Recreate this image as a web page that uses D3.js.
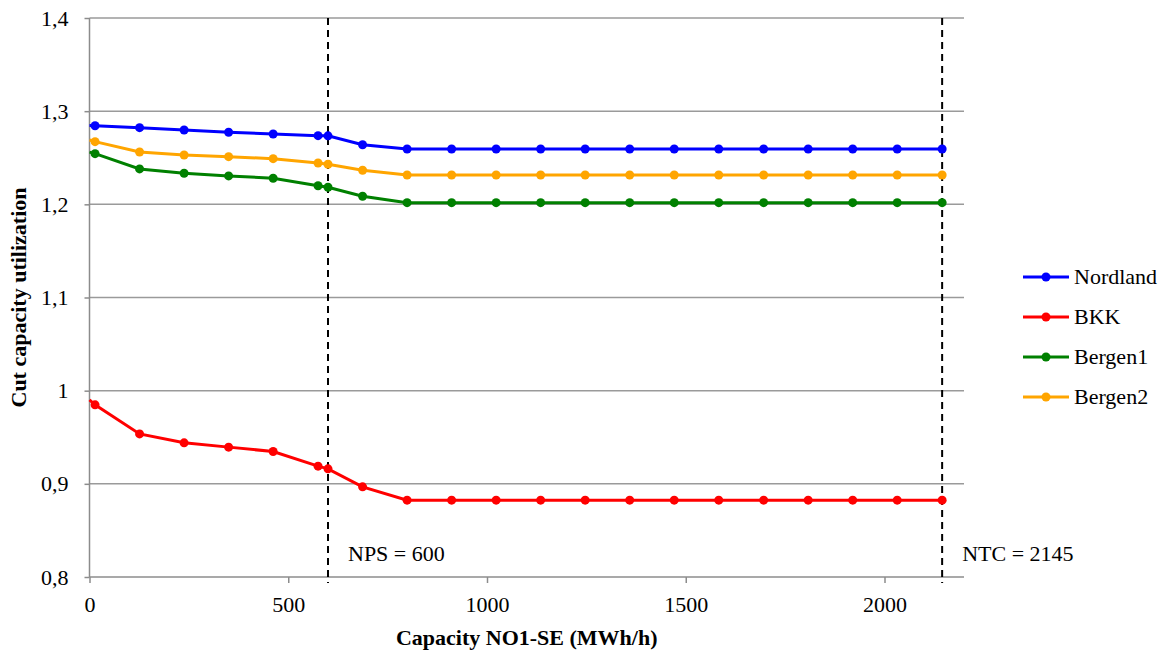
<!DOCTYPE html>
<html>
<head>
<meta charset="utf-8">
<script src="https://cdn.jsdelivr.net/npm/d3@7"></script>
<style>
  body { margin: 0; background: #fff; }
  svg text { font-family: "Liberation Serif", "Times New Roman", serif; fill: #000; }
</style>
</head>
<body>
<svg></svg>
<script>
// capacity NO1-SE (MWh/h)
const capacity = [0, 14, 126, 238, 350, 462, 575, 600, 687, 799, 911, 1023, 1135, 1247, 1359, 1471, 1583, 1696, 1808, 1920, 2032, 2145];

const nordland = [1.2845, 1.2844, 1.2823, 1.2798, 1.2774, 1.2755, 1.2737, 1.2735, 1.264, 1.2594, 1.2594, 1.2594, 1.2594, 1.2594, 1.2594, 1.2594, 1.2594, 1.2594, 1.2594, 1.2594, 1.2594, 1.2594];
const bkk = [0.99, 0.9848, 0.9536, 0.944, 0.9394, 0.9347, 0.919, 0.9161, 0.8968, 0.8825, 0.8825, 0.8825, 0.8825, 0.8825, 0.8825, 0.8825, 0.8825, 0.8825, 0.8825, 0.8825, 0.8825, 0.8825];
const bergen1 = [1.256, 1.2544, 1.238, 1.2334, 1.2305, 1.228, 1.22, 1.2183, 1.2087, 1.2018, 1.2018, 1.2018, 1.2018, 1.2018, 1.2018, 1.2018, 1.2018, 1.2018, 1.2018, 1.2018, 1.2018, 1.2018];
const bergen2 = [1.269, 1.2673, 1.2562, 1.253, 1.2512, 1.249, 1.2444, 1.243, 1.2366, 1.2315, 1.2315, 1.2315, 1.2315, 1.2315, 1.2315, 1.2315, 1.2315, 1.2315, 1.2315, 1.2315, 1.2315, 1.2315];

const seriesNames = ["Nordland", "BKK", "Bergen1", "Bergen2"];
const seriesColors = ["#0000ff", "#ff0000", "#008000", "#ffa500"];
const seriesValues = [nordland, bkk, bergen1, bergen2];

const xTicks = [0, 500, 1000, 1500, 2000];
const yTicks = [0.8, 0.9, 1.0, 1.1, 1.2, 1.3, 1.4];
const refLines = [{ value: 600, label: "NPS = 600" }, { value: 2145, label: "NTC = 2145" }];

const width = 1171,
  height = 655;
const margin = { left: 89.5, right: 207, top: 18, bottom: 78 };
const serif = '"Liberation Serif", "Times New Roman", serif';
const fontSize = 22;

const svg = d3.select("svg").attr("width", width).attr("height", height);

const x = d3.scaleLinear().domain([0, 2200]).range([margin.left, width - margin.right]);
const y = d3.scaleLinear().domain([0.8, 1.4]).range([height - margin.bottom, margin.top]);

const fmt = v => (v === 1 ? "1" : d3.format(".1f")(v).replace(".", ","));

/////////////// GRID ///////////////
svg.append("g")
  .selectAll("line")
  .data(yTicks.slice(1))
  .enter()
  .append("line")
  .attr("x1", x(0))
  .attr("x2", x(2200))
  .attr("y1", d => y(d))
  .attr("y2", d => y(d))
  .attr("stroke", "#9a9a9a")
  .attr("stroke-width", 1.5);

/////////////// AXES ///////////////
const yAxis = svg.append("g")
  .attr("transform", "translate(" + x(0) + ",0)")
  .call(d3.axisLeft(y).tickValues(yTicks).tickFormat(fmt).tickSize(5).tickPadding(16));
const xAxis = svg.append("g")
  .attr("transform", "translate(0," + y(0.8) + ")")
  .call(d3.axisBottom(x).tickValues(xTicks).tickFormat(d3.format("d")).tickSize(6).tickPadding(13));

[xAxis, yAxis].forEach(a => {
  a.attr("font-family", serif).attr("font-size", fontSize);
  a.select(".domain").attr("stroke", "#8c8c8c").attr("stroke-width", 1.5);
  a.selectAll(".tick line").attr("stroke", "#8c8c8c").attr("stroke-width", 1.5);
  a.selectAll("text").attr("fill", "#000");
});
yAxis.select(".domain").attr("d", "M0," + y(0.8) + "V" + y(1.4));
xAxis.select(".domain").attr("d", "M" + x(0) + ",0H" + x(2200));

/////////////// REFERENCE LINES ///////////////
svg.append("g")
  .selectAll("line")
  .data(refLines)
  .enter()
  .append("line")
  .attr("x1", d => x(d.value))
  .attr("x2", d => x(d.value))
  .attr("y1", y(1.4))
  .attr("y2", y(0.8) + 6)
  .attr("stroke", "#000")
  .attr("stroke-width", 2)
  .attr("stroke-dasharray", "7,5");

svg.append("g")
  .selectAll("text")
  .data(refLines)
  .enter()
  .append("text")
  .attr("x", d => x(d.value) + 20)
  .attr("y", 561)
  .attr("font-family", serif)
  .attr("font-size", fontSize)
  .text(d => d.label);

/////////////// SERIES ///////////////
const line = d3.line().x((d, i) => x(capacity[i])).y(d => y(d));

const plot = svg.append("g");

seriesValues.forEach((vals, k) => {
  const g = plot.append("g");
  g.append("path")
    .datum(vals)
    .attr("d", line)
    .attr("fill", "none")
    .attr("stroke", seriesColors[k])
    .attr("stroke-width", 3);
  // the marker at capacity 0 sits under the axis and is not shown
  g.selectAll("circle")
    .data(vals.slice(1))
    .enter()
    .append("circle")
    .attr("cx", (d, i) => x(capacity[i + 1]))
    .attr("cy", d => y(d))
    .attr("r", 4.5)
    .attr("fill", seriesColors[k]);
});

/////////////// LEGEND ///////////////
const legend = svg.append("g")
  .selectAll("g")
  .data(seriesNames)
  .enter()
  .append("g")
  .attr("transform", (d, i) => "translate(1023," + (277 + i * 40) + ")");
legend.append("line")
  .attr("x1", 0).attr("x2", 46)
  .attr("stroke", (d, i) => seriesColors[i])
  .attr("stroke-width", 3);
legend.append("circle")
  .attr("cx", 23).attr("r", 4.5)
  .attr("fill", (d, i) => seriesColors[i]);
legend.append("text")
  .attr("x", 51)
  .attr("dy", "0.33em")
  .attr("font-family", serif)
  .attr("font-size", fontSize)
  .text(d => d);

/////////////// TITLES ///////////////
svg.append("text")
  .attr("x", x(1100))
  .attr("y", 645)
  .attr("text-anchor", "middle")
  .attr("font-family", serif)
  .attr("font-size", fontSize)
  .attr("font-weight", "bold")
  .text("Capacity NO1-SE (MWh/h)");

svg.append("text")
  .attr("transform", "translate(26," + y(1.1) + ") rotate(-90)")
  .attr("text-anchor", "middle")
  .attr("font-family", serif)
  .attr("font-size", fontSize)
  .attr("font-weight", "bold")
  .text("Cut capacity utilization");
</script>
</body>
</html>
